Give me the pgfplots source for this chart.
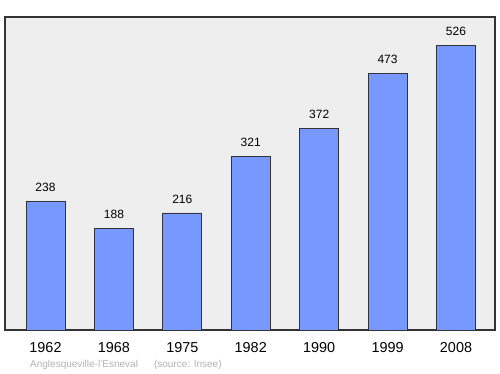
\documentclass[border=0pt]{standalone}
\usepackage{pgfplots}
\pgfplotsset{compat=1.18}
\usepackage{fontspec}
\setmainfont{Liberation Sans}
\definecolor{bg}{HTML}{EEEEEE}
\definecolor{barfill}{HTML}{7799FF}
\definecolor{edge}{HTML}{333333}
\begin{document}
\begin{tikzpicture}[x=1pt,y=1pt]
\useasboundingbox (0,0) rectangle (500,374);
\begin{axis}[
  at={(5pt,44pt)}, anchor=south west,
  scale only axis, width=490pt, height=313pt,
  xmin=-0.592, xmax=6.57, ymin=0, ymax=577.7,
  axis background/.style={fill=bg},
  axis line style={edge, line width=1.2pt},
  /pgf/number format/assume math mode=true,
  ytick=\empty,
  xtick={0,...,6},
  xticklabels={1962,1968,1975,1982,1990,1999,2008},
  xtick style={draw=none},
  xticklabel style={font=\fontsize{14.4}{16}\selectfont, yshift=-5pt},
  ybar, bar width=39pt,
  nodes near coords,
  nodes near coords style={font=\fontsize{12}{14}\selectfont, yshift=6pt, /pgf/number format/assume math mode=true},
]
\addplot[fill=barfill, draw=edge, line width=0.8pt] coordinates {
(0,238) (1,188) (2,216) (3,321) (4,372) (5,473) (6,526)};
\end{axis}
\node[anchor=west, text=gray!60, font=\fontsize{10}{12}\selectfont, inner sep=0pt] at (30,9) {Anglesqueville-l'Esneval\hspace{1.6em}(source: Insee)};
\end{tikzpicture}
\end{document}
